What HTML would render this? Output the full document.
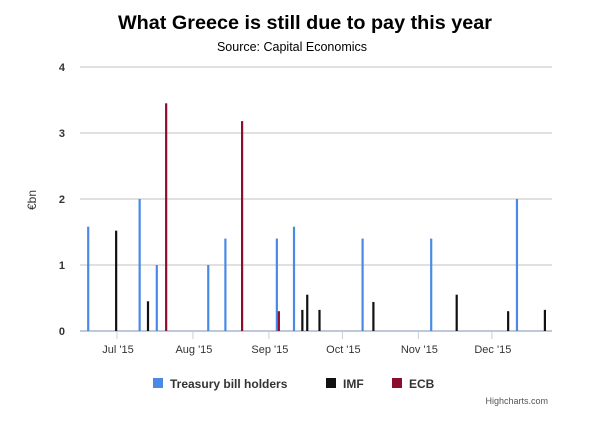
<!DOCTYPE html>
<html><head><meta charset="utf-8"><style>
body{margin:0;background:#fff;font-family:"Liberation Sans",sans-serif}
</style></head><body>
<svg width="610" height="426" xmlns="http://www.w3.org/2000/svg" id="c" font-family="Liberation Sans, sans-serif">
<text x="305" y="29" text-anchor="middle" font-size="19" font-weight="bold" textLength="374" lengthAdjust="spacingAndGlyphs" fill="#000">What Greece is still due to pay this year</text>
<text x="292" y="51" text-anchor="middle" font-size="12.5" fill="#000">Source: Capital Economics</text>
<text transform="translate(36,200) rotate(-90)" text-anchor="middle" font-size="12" fill="#333">€bn</text>
<g id="grid"></g><g id="bars"></g>
<g>
<rect x="153" y="378" width="10" height="10" fill="#4a8ae6"/>
<text x="170" y="388" font-size="12" font-weight="bold" fill="#333">Treasury bill holders</text>
<rect x="326" y="378" width="10" height="10" fill="#111"/>
<text x="343" y="388" font-size="12" font-weight="bold" fill="#333">IMF</text>
<rect x="392" y="378" width="10" height="10" fill="#8b0e2f"/>
<text x="409" y="388" font-size="12" font-weight="bold" fill="#333">ECB</text>
</g>
<text x="548" y="404" text-anchor="end" font-size="9" fill="#555">Highcharts.com</text>
</svg>
<script>
const tbDates=["2015-06-19","2015-07-10","2015-07-17","2015-08-07","2015-08-14","2015-09-04","2015-09-11","2015-10-09","2015-11-06","2015-12-11"];
const tbValues=[1.58,2.0,1.0,1.0,1.4,1.4,1.58,1.4,1.4,2.0];
const imfDates=["2015-06-30","2015-07-13","2015-09-14","2015-09-16","2015-09-21","2015-10-13","2015-11-16","2015-12-07","2015-12-22"];
const imfValues=[1.52,0.45,0.32,0.55,0.32,0.44,0.55,0.3,0.32];
const ecbDates=["2015-07-20","2015-08-20","2015-09-04"];
const ecbValues=[3.45,3.18,0.3];
const yTicks=[0,1,2,3,4];
const monthTicks=["2015-07-01","2015-08-01","2015-09-01","2015-10-01","2015-11-01","2015-12-01"];
const monthLabels=["Jul '15","Aug '15","Sep '15","Oct '15","Nov '15","Dec '15"];
const NS="http://www.w3.org/2000/svg";
const X0=80,X1=552,Y0=331,Y1=67;
const d0=Date.UTC(2015,6,1);
function days(s){const p=s.split('-');return (Date.UTC(+p[0],p[1]-1,+p[2])-d0)/864e5;}
function xs(s){return 117+days(s)*2.45;}
function ys(v){return Y0-(v/4)*(Y0-Y1);}
function mk(t,a,p){const e=document.createElementNS(NS,t);for(const k in a)e.setAttribute(k,a[k]);p.appendChild(e);return e;}
const g=document.getElementById('grid'),b=document.getElementById('bars');
yTicks.forEach(v=>{
 const l=mk('line',{x1:X0,x2:X1,y1:ys(v),y2:ys(v),stroke:v===0?'#c0c8d8':'#c0c0c0','stroke-width':v===0?2:1},g);
 
 
 const t=mk('text',{x:65,y:ys(v)+4,'text-anchor':'end','font-size':11,'font-weight':'bold',fill:'#333'},g);
 t.textContent=v;
 
 
});
monthTicks.forEach((m,i)=>{
 const x=xs(m);
 const l=mk('line',{x1:x,x2:x,y1:Y0,y2:Y0+8,stroke:'#c0d0e0','stroke-width':1},g);
 
 
 const t=mk('text',{x:x+1,y:353,'text-anchor':'middle','font-size':11,fill:'#333'},g);
 t.textContent=monthLabels[i];
 
 
});
function series(dates,vals,color,off,name){
 dates.forEach((d,i)=>{
  const x=xs(d)+off,y=ys(vals[i]);
  const r=mk('rect',{x:x-1,y:y,width:2.2,height:Y0-y,fill:color},b);
  
  
 });
}
series(tbDates,tbValues,'#4a8ae6',0.5,'treasury');
series(imfDates,imfValues,'#111',1.5,'imf');
series(ecbDates,ecbValues,'#8b0e2f',2.5,'ecb');
</script>
</body></html>
